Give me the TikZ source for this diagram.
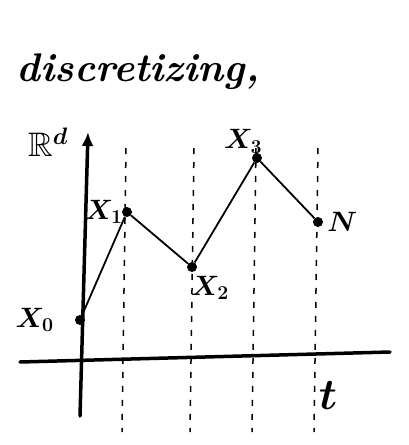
\RequirePackage{fix-cm}
\documentclass[tikz,border=0pt]{standalone}
\usepackage{amsmath}
\usepackage{amssymb}
\usetikzlibrary{arrows.meta,positioning}

\begin{document}
\begin{tikzpicture}[
                    x=1pt, y=-1pt,
                    axis/.style={line width=3.5pt, line cap=round},
                    grid/.style={line width=1.5pt, dash pattern=on 6pt off 8pt},
                    path/.style={line width=1.8pt},
                    dot/.style={circle, fill=black, inner sep=0pt, minimum size=10pt},
                    lab/.style={font=\fontsize{28}{30}\selectfont\boldmath, inner sep=1pt}
                ]
                \useasboundingbox (0,0) rectangle (409,445);

                % titre
                \node[font=\fontsize{40}{44}\selectfont\bfseries\itshape] (title) at (138,72) {discretizing,};

                % axes
                \coordinate (ybot) at (80,416);
                \coordinate (ytop) at (88,132);
                \coordinate (xleft) at (20,362);
                \coordinate (xright) at (390,352);
                \draw[axis] (xleft) -- (xright);
                \draw[axis, -{Latex[length=14pt,width=12pt]}] (ybot) -- (ytop);
                \node[lab, font=\fontsize{34}{36}\selectfont\boldmath] (R) at (48,142) {$\mathbb{R}^{d}$};
                \node[lab, font=\fontsize{44}{46}\selectfont\boldmath] (t) at (328,396) {$t$};

                % subdivisions
                \foreach \i/\x in {1/122, 2/190, 3/252, 4/314} {
                    \coordinate (top\i) at (\x+4,148);
                    \coordinate (bot\i) at (\x,432);
                    \draw[grid] (top\i) -- (bot\i);
                }

                % points
                \node[dot] (x0) at (80,320) {};
                \node[dot] (x1) at (127,212) {};
                \node[dot] (x2) at (192,267) {};
                \node[dot] (x3) at (257,158) {};
                \node[dot] (xn) at (318,222) {};
                \draw[path] (x0) -- (x1) -- (x2) -- (x3) -- (xn);

                \node[lab, left=20pt of x0] (l0) {$X_0$};
                \node[lab, left=-2pt of x1] (l1) {$X_1$};
                \node[lab, below right=4pt and -6pt of x2] (l2) {$X_2$};
                \node[lab, above left=0pt and -10pt of x3] (l3) {$X_3$};
                \node[lab, right=3pt of xn] (ln) {$N$};

                \end{tikzpicture}
\end{document}
